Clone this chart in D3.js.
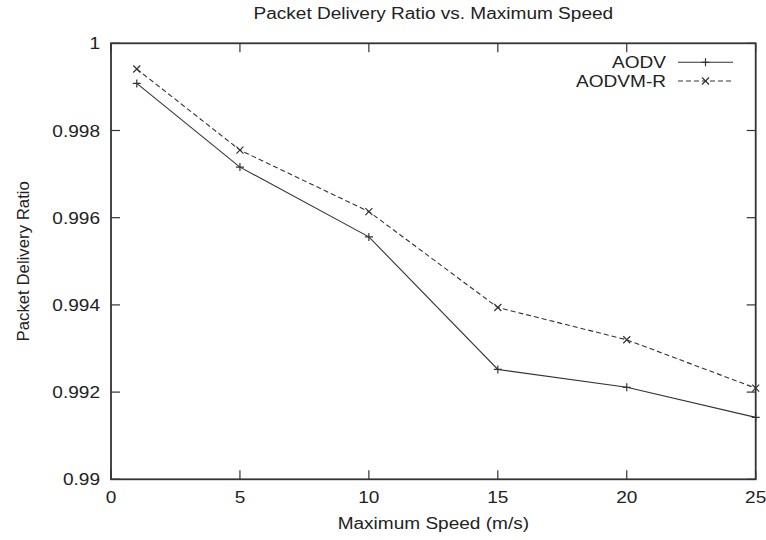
<!DOCTYPE html>
<html>
<head>
<meta charset="utf-8">
<script src="https://cdn.jsdelivr.net/npm/d3@7"></script>
<style>
  html, body { margin: 0; padding: 0; background: #fff; }
  svg { display: block; }
  text { font-family: "Liberation Sans", Arial, Helvetica, sans-serif; fill: #222; }
</style>
</head>
<body>
<svg id="chart" width="766" height="540"></svg>
<script>
// Maximum node speed (m/s)
const speeds = [1, 5, 10, 15, 20, 25];
// Packet delivery ratio per routing protocol
const aodv   = [0.99908, 0.99716, 0.99556, 0.99252, 0.99211, 0.99142];
const aodvmr = [0.99941, 0.99755, 0.99614, 0.99394, 0.99320, 0.99209];
// Axis ticks
const xTicks = [0, 5, 10, 15, 20, 25];
const yTicks = [0.99, 0.992, 0.994, 0.996, 0.998, 1];
const yTickLabels = ["0.99", "0.992", "0.994", "0.996", "0.998", "1"];

const svg = d3.select("#chart");
const plotL = 111, plotR = 755.7, plotT = 43.3, plotB = 479.3;
const x = d3.scaleLinear().domain([0, 25]).range([plotL, plotR]);
const y = d3.scaleLinear().domain([0.99, 1]).range([plotB, plotT]);
const ink = "#333";
const sx = 1.19; // horizontal stretch of the typeface
const fs = 16;

function label(txt, px, py, anchor, rot) {
  const g = svg.append("g").attr("transform",
    `translate(${px},${py})` + (rot ? ` rotate(${rot}) scale(1.05,1)` : ` scale(${sx},1)`));
  g.append("text").attr("text-anchor", anchor).attr("font-size", fs).text(txt);
  return g;
}

// Ticks, inward and mirrored on all four sides
const tickLen = 9;
const ticks = svg.append("g").attr("stroke", ink).attr("stroke-width", 1.2);
xTicks.forEach(v => {
  ticks.append("line").attr("x1", x(v)).attr("x2", x(v)).attr("y1", plotB).attr("y2", plotB - tickLen);
  ticks.append("line").attr("x1", x(v)).attr("x2", x(v)).attr("y1", plotT).attr("y2", plotT + tickLen);
});
yTicks.forEach(v => {
  ticks.append("line").attr("x1", plotL).attr("x2", plotL + tickLen).attr("y1", y(v)).attr("y2", y(v));
  ticks.append("line").attr("x1", plotR).attr("x2", plotR - tickLen).attr("y1", y(v)).attr("y2", y(v));
});

// Frame
svg.append("rect")
  .attr("x", plotL).attr("y", plotT)
  .attr("width", plotR - plotL).attr("height", plotB - plotT)
  .attr("fill", "none").attr("stroke", ink).attr("stroke-width", 1.8);

// Tick labels
xTicks.forEach(v => label(String(v), x(v), 503, "middle"));
yTicks.forEach((v, i) => label(yTickLabels[i], plotL - 11, y(v) + 6, "end"));

// Titles
label("Packet Delivery Ratio vs. Maximum Speed", (plotL + plotR) / 2, 19, "middle");
label("Maximum Speed (m/s)", (plotL + plotR) / 2, 529, "middle");
label("Packet Delivery Ratio", 29, (plotT + plotB) / 2, "middle", -90);

// Series
const line = d3.line().x(d => x(d[0])).y(d => y(d[1]));
const series = [
  { name: "AODV", values: aodv, dash: null, marker: "plus" },
  { name: "AODVM-R", values: aodvmr, dash: "5,3", marker: "cross" }
];

function marker(g, kind, cx, cy) {
  const p = kind === "plus"
    ? `M${cx - 4},${cy}H${cx + 4}M${cx},${cy - 4}V${cy + 4}`
    : `M${cx - 3.5},${cy - 3.5}L${cx + 3.5},${cy + 3.5}M${cx - 3.5},${cy + 3.5}L${cx + 3.5},${cy - 3.5}`;
  g.append("path").attr("d", p).attr("stroke", ink).attr("stroke-width", 1.2).attr("fill", "none");
}

series.forEach((s, si) => {
  const pts = speeds.map((v, i) => [v, s.values[i]]);
  const g = svg.append("g");
  g.append("path").attr("d", line(pts))
    .attr("fill", "none").attr("stroke", ink).attr("stroke-width", 1.1)
    .attr("stroke-dasharray", s.dash);
  pts.forEach(p => marker(g, s.marker, x(p[0]), y(p[1])));

  // Legend entry
  const ly = 62.3 + si * 18.7;
  label(s.name, 666, ly + 6, "end");
  g.append("line").attr("x1", 678).attr("x2", 733).attr("y1", ly).attr("y2", ly)
    .attr("stroke", ink).attr("stroke-width", 1.1).attr("stroke-dasharray", s.dash);
  marker(g, s.marker, 705.5, ly);
});
</script>
</body>
</html>
